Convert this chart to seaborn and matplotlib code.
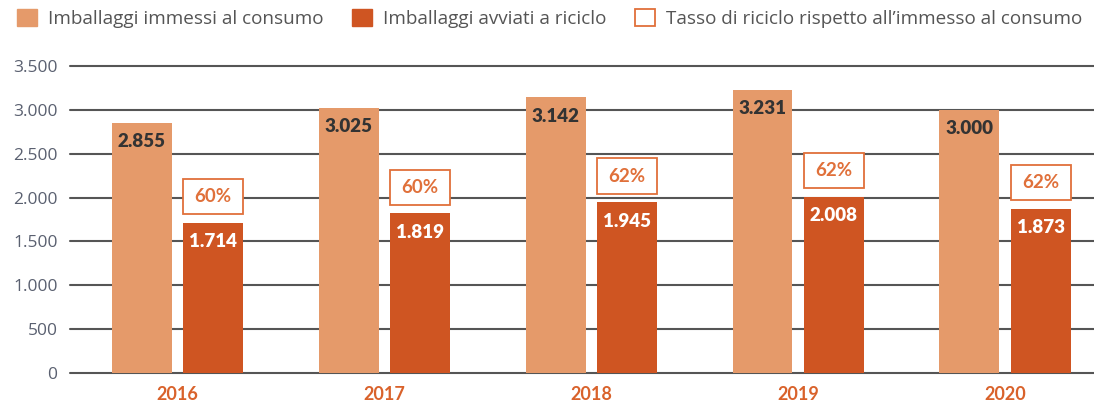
import matplotlib
matplotlib.use("Agg")
import matplotlib.pyplot as plt
import seaborn as sns
import pandas as pd
from matplotlib.patches import Patch, Rectangle

years = ["2016", "2017", "2018", "2019", "2020"]
immessi = [2855, 3025, 3142, 3231, 3000]
riciclo = [1714, 1819, 1945, 2008, 1873]
tasso = [60, 60, 62, 62, 62]
series = ["Imballaggi immessi al consumo", "Imballaggi avviati a riciclo"]
legend_rate = "Tasso di riciclo rispetto all\u2019immesso al consumo"
yticks = [0, 500, 1000, 1500, 2000, 2500, 3000, 3500]

c_light = "#E59A6A"
c_dark = "#CF5522"
c_box = "#E0703A"
c_year = "#D9622B"
c_grid = "#555555"
c_tick = "#5A6070"

df = pd.DataFrame({
    "anno": years * 2,
    "valore": immessi + riciclo,
    "serie": [series[0]] * len(years) + [series[1]] * len(years),
})

sns.set_theme(style="white")
plt.rcParams["font.family"] = ["Open Sans", "DejaVu Sans"]

fig = plt.figure(figsize=(10.94, 4.03), dpi=100)
ax = fig.add_axes([0.064, 0.0744, 0.936, 0.762])

sns.barplot(data=df, x="anno", y="valore", hue="serie", order=years,
            hue_order=series, palette=[c_light, c_dark], width=0.69, gap=0.16,
            saturation=1, errorbar=None, legend=False, ax=ax, zorder=3,
            linewidth=0)

ax.set_ylim(0, 3500)
ax.set_xlim(-0.52, 4.43)
ax.set_yticks(yticks)
ax.set_yticklabels([f"{v:,}".replace(",", ".") for v in yticks],
                   fontsize=12.5, color=c_tick)
ax.set_xticklabels(years, fontsize=13, color=c_year, fontweight="bold",
                   family=["Lato", "DejaVu Sans"])
ax.tick_params(axis="both", length=0, pad=9)
ax.tick_params(axis="x", pad=9)
for y in yticks:
    ax.axhline(y, color=c_grid, lw=1.5, zorder=1, clip_on=False)
for s in ax.spines.values():
    s.set_visible(False)
ax.set_xlabel("")
ax.set_ylabel("")

bold_font = ["Lato", "DejaVu Sans"]
cont_light, cont_dark = ax.containers[0], ax.containers[1]
for bar, v in zip(cont_light, immessi):
    ax.text(bar.get_x() + bar.get_width() / 2, v - 120, f"{v:,}".replace(",", "."),
            ha="center", va="top", fontsize=13.5, fontweight="heavy",
            color="#333333", zorder=5, family=bold_font)
for bar, v, t in zip(cont_dark, riciclo, tasso):
    cx = bar.get_x() + bar.get_width() / 2
    ax.text(cx, v - 120, f"{v:,}".replace(",", "."),
            ha="center", va="top", fontsize=13.5, fontweight="heavy",
            color="white", zorder=5, family=bold_font)
    ax.add_patch(Rectangle((bar.get_x(), v + 100), bar.get_width(), 400,
                           facecolor="white", edgecolor=c_box, lw=1.3, zorder=4))
    ax.text(cx, v + 300, f"{t}%", ha="center", va="center", fontsize=13.5,
            fontweight="bold", color=c_box, zorder=5, family=bold_font)

handles = [Patch(facecolor=c_light, edgecolor=c_light),
           Patch(facecolor=c_dark, edgecolor=c_dark),
           Patch(facecolor="white", edgecolor=c_box, lw=1.3)]
labels = series + [legend_rate]
fig.legend(handles, labels, loc="upper left", bbox_to_anchor=(0.0, 1.02),
           ncol=3, frameon=False, fontsize=13.6, handlelength=1.05,
           handleheight=1.05, handletextpad=0.6, columnspacing=1.5,
           labelcolor="#555555")

fig.savefig("out.png", dpi=100)
